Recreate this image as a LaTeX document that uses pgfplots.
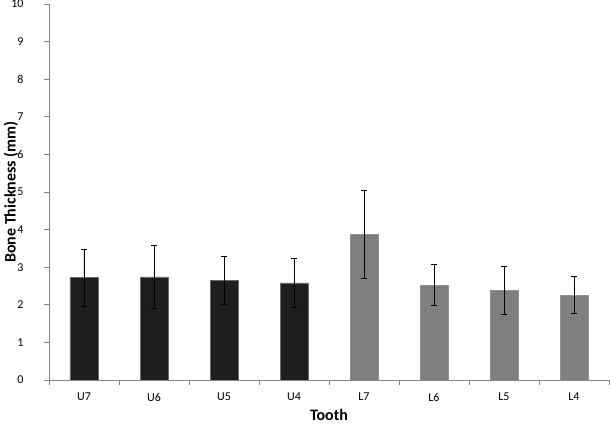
\documentclass[border=0pt]{standalone}
\usepackage{pgfplots}
\pgfplotsset{compat=1.18}
\usepackage{fontspec}
\setmainfont{Carlito}
\definecolor{axgray}{HTML}{868686}
\definecolor{darkbar}{HTML}{1E1E1E}
\definecolor{darkedge}{HTML}{6A6A6A}
\definecolor{lightbar}{HTML}{7F7F7F}
\begin{document}
\begin{tikzpicture}
\begin{axis}[
  scale only axis, width=560pt, height=376pt,
  xmin=-0.5, xmax=7.5, ymin=0, ymax=10,
  ytick={0,...,10},
  xtick={0,...,7}, xticklabels={U7,U6,U5,U4,L7,L6,L5,L4},
  major x tick style={draw=none},
  minor xtick={-0.5,0.5,...,7.5},
  axis x line*=bottom, axis y line*=left,
  axis line style={axgray, line width=0.8pt},
  tick align=outside, tick style={axgray, line width=0.8pt},
  major tick length=5pt, minor tick length=5pt,
  ticklabel style={font=\fontsize{12}{14}\selectfont},
  xticklabel style={anchor=center, yshift=-12pt},
  yticklabel style={anchor=east, xshift=-17pt},
  /pgf/number format/assume math mode=true,
  xlabel={\textbf{Tooth}}, ylabel={\textbf{Bone Thickness (mm)}},
  label style={font=\fontsize{16}{18}\selectfont},
  xlabel style={at={(axis description cs:0.5,-0.093)}, anchor=center},
  ylabel style={at={(axis description cs:-0.068,0.5)}, anchor=center},
  ybar, bar width=28pt, bar shift=0pt,
  error bars/y dir=both, error bars/y explicit,
  error bars/error bar style={black, line width=0.8pt},
  error bars/error mark options={rotate=90, mark size=3pt, black, line width=0.8pt},
]
\coordinate (bl) at (rel axis cs:0,0);
\coordinate (tr) at (rel axis cs:1,1);
\addplot[fill=darkbar, draw=darkedge, line width=0.8pt] coordinates {
  (0,2.72) += (0,0.75) -= (0,0.75)
  (1,2.74) += (0,0.83) -= (0,0.83)
  (2,2.64) += (0,0.65) -= (0,0.64)
  (3,2.58) += (0,0.66) -= (0,0.65)
};
\addplot[fill=lightbar, draw=lightbar!85!white, line width=0.8pt] coordinates {
  (4,3.88) += (0,1.17) -= (0,1.17)
  (5,2.52) += (0,0.55) -= (0,0.54)
  (6,2.39) += (0,0.64) -= (0,0.64)
  (7,2.26) += (0,0.50) -= (0,0.48)
};
\end{axis}
\pgfresetboundingbox
\useasboundingbox ([xshift=-49pt,yshift=-47pt]bl) rectangle ([xshift=1pt,yshift=4pt]tr);
\end{tikzpicture}
\end{document}
